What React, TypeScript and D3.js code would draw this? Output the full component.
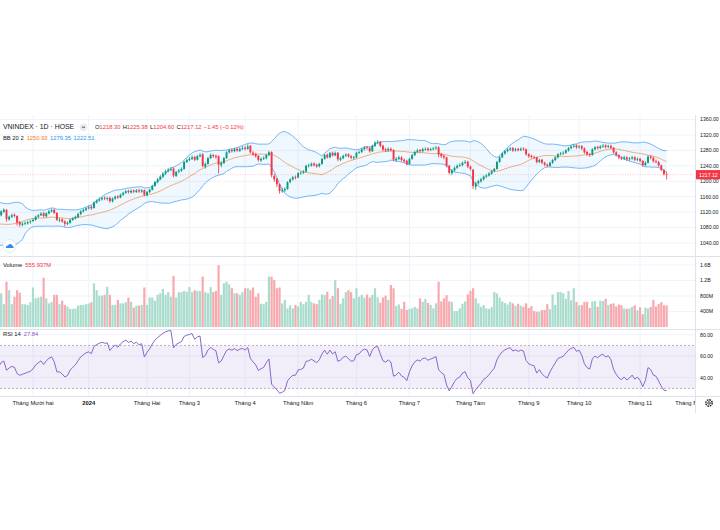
import React from 'react';
import * as d3 from 'd3';

// Closes before the visible window (Sep 5 – Nov 14, 2023), used only to warm up BB(20,2) and RSI(14)
const warmupCloses = [
  1232, 1238, 1241, 1240, 1245, 1240, 1230, 1228, 1228, 1214, 1215, 1223, 1211, 1195, 1172, 1155, 1162, 1152, 1154,
  1154, 1127, 1133, 1139, 1154, 1141, 1150, 1164, 1160, 1154, 1150, 1150, 1141, 1130, 1111, 1104, 1100, 1088, 1063, 1052, 1049, 1028,
  1053, 1068, 1078, 1094, 1100, 1114, 1115, 1101, 1098, 1110,
];

// Visible daily bars, Nov 15 2023 – Nov 15 2024
const opens = [
  1112, 1121, 1126, 1101, 1108, 1113, 1110, 1094, 1087, 1090, 1091, 1095,
  1097, 1100, 1108, 1112, 1117, 1109, 1117, 1122, 1126, 1118, 1099, 1101, 1096, 1089, 1092, 1100, 1104, 1107, 1115, 1122, 1126,
  1130, 1134, 1131, 1145, 1150, 1153, 1157, 1154, 1157, 1148, 1155, 1161, 1158, 1165, 1170, 1175, 1171, 1176, 1172, 1177, 1173, 1177,
  1164, 1172, 1178, 1188, 1198, 1205, 1212, 1220, 1226, 1230, 1233, 1214, 1225, 1228, 1232, 1250,
  1255, 1258, 1263, 1256, 1265, 1270, 1238, 1245, 1260, 1268, 1266, 1265, 1242, 1247, 1260, 1275, 1281, 1278, 1284, 1279, 1284,
  1287, 1284, 1292, 1274, 1271, 1266, 1254, 1258, 1260, 1268, 1276, 1214, 1206, 1192, 1174, 1177, 1180, 1198, 1205, 1211,
  1210, 1221, 1222, 1225, 1240, 1241, 1246, 1243, 1239, 1245, 1258, 1269, 1262, 1274, 1267, 1274, 1256, 1260, 1266, 1270, 1265, 1260,
  1262, 1274, 1276, 1283, 1288, 1286, 1278, 1292, 1300, 1302, 1292, 1283, 1280, 1284, 1281, 1255, 1258, 1262, 1256, 1253,
  1245, 1258, 1268, 1276, 1281, 1278, 1283, 1285, 1281, 1283, 1285, 1288, 1271, 1266, 1262, 1240, 1221, 1228, 1235, 1241, 1242, 1248, 1251,
  1238, 1230, 1186, 1195, 1200, 1205, 1212, 1215, 1220, 1226, 1232, 1250, 1262, 1272, 1278, 1282, 1286, 1280, 1284, 1281, 1285, 1283,
  1270, 1266, 1263, 1262, 1250, 1256, 1248, 1243, 1240, 1248, 1255, 1262, 1270, 1272, 1274, 1280, 1286, 1290, 1293,
  1288, 1291, 1285, 1276, 1270, 1268, 1283, 1289, 1286, 1290, 1293, 1289, 1292, 1287, 1275, 1268, 1262, 1259, 1262, 1257, 1259, 1262, 1256,
  1258, 1253, 1242, 1248, 1264, 1261, 1252, 1250, 1241, 1229, 1218.3,
];
const highs = [
  1125, 1130, 1128, 1111, 1116, 1117, 1112, 1097, 1094, 1096, 1098, 1100,
  1104, 1111, 1115, 1120, 1121, 1120, 1126, 1129, 1129, 1120, 1105, 1104, 1099, 1096, 1103, 1107, 1111, 1118, 1125, 1129, 1133,
  1137, 1138, 1148, 1153, 1158, 1160, 1161, 1160, 1160, 1158, 1163, 1164, 1168, 1173, 1178, 1178, 1179, 1179, 1180, 1181, 1180, 1179,
  1175, 1181, 1191, 1201, 1209, 1216, 1224, 1230, 1235, 1237, 1236, 1227, 1232, 1236, 1253, 1259,
  1263, 1267, 1266, 1268, 1273, 1273, 1249, 1263, 1272, 1271, 1269, 1267, 1252, 1263, 1278, 1284, 1285, 1287, 1288, 1288, 1291,
  1291, 1296, 1294, 1278, 1274, 1268, 1262, 1265, 1271, 1279, 1278, 1219, 1209, 1194, 1183, 1185, 1200, 1208, 1214, 1215,
  1224, 1226, 1229, 1243, 1246, 1249, 1249, 1246, 1248, 1261, 1271, 1272, 1276, 1277, 1277, 1276, 1264, 1269, 1273, 1273, 1268, 1266,
  1277, 1280, 1286, 1291, 1291, 1289, 1295, 1304, 1307, 1304, 1295, 1287, 1288, 1288, 1283, 1263, 1266, 1265, 1259, 1256,
  1261, 1271, 1279, 1284, 1284, 1287, 1288, 1288, 1287, 1289, 1292, 1291, 1274, 1269, 1264, 1243, 1232, 1238, 1244, 1247, 1251, 1255, 1253,
  1241, 1232, 1199, 1204, 1209, 1215, 1219, 1224, 1229, 1235, 1253, 1265, 1275, 1281, 1286, 1289, 1289, 1287, 1287, 1288, 1288, 1285,
  1273, 1269, 1267, 1264, 1259, 1258, 1251, 1246, 1251, 1258, 1265, 1273, 1276, 1278, 1283, 1289, 1294, 1297, 1296,
  1294, 1294, 1288, 1279, 1274, 1286, 1291, 1292, 1294, 1297, 1296, 1295, 1295, 1289, 1278, 1270, 1265, 1266, 1265, 1263, 1266, 1265, 1262,
  1261, 1255, 1252, 1267, 1268, 1264, 1256, 1253, 1244, 1232, 1225.38,
];
const lows = [
  1109, 1118, 1095, 1098, 1105, 1106, 1085, 1082, 1083, 1086, 1088, 1090,
  1094, 1098, 1105, 1110, 1106, 1106, 1114, 1119, 1115, 1097, 1094, 1092, 1083, 1086, 1090, 1097, 1101, 1105, 1112, 1119, 1123,
  1127, 1126, 1129, 1142, 1147, 1150, 1151, 1150, 1144, 1145, 1152, 1154, 1156, 1162, 1167, 1168, 1168, 1169, 1170, 1170, 1170, 1161,
  1161, 1169, 1176, 1186, 1195, 1203, 1209, 1217, 1223, 1226, 1210, 1211, 1221, 1224, 1230, 1247,
  1252, 1255, 1252, 1254, 1262, 1236, 1233, 1243, 1258, 1261, 1258, 1220, 1236, 1245, 1258, 1272, 1274, 1275, 1276, 1276, 1281,
  1280, 1282, 1272, 1266, 1261, 1251, 1250, 1255, 1257, 1265, 1210, 1198, 1185, 1168, 1170, 1172, 1178, 1195, 1202, 1205,
  1208, 1217, 1219, 1223, 1236, 1238, 1238, 1235, 1236, 1243, 1256, 1259, 1260, 1264, 1265, 1252, 1252, 1257, 1263, 1261, 1257, 1256,
  1260, 1271, 1273, 1280, 1282, 1274, 1276, 1289, 1296, 1288, 1278, 1276, 1277, 1277, 1252, 1250, 1255, 1251, 1248, 1241,
  1243, 1256, 1265, 1273, 1274, 1275, 1279, 1277, 1278, 1280, 1282, 1262, 1260, 1257, 1236, 1218, 1216, 1225, 1232, 1237, 1239, 1245, 1234,
  1228, 1180, 1178, 1191, 1196, 1202, 1208, 1212, 1217, 1223, 1230, 1248, 1260, 1269, 1275, 1279, 1276, 1277, 1277, 1278, 1279, 1266,
  1261, 1259, 1258, 1246, 1247, 1244, 1239, 1236, 1238, 1245, 1252, 1259, 1267, 1268, 1271, 1277, 1283, 1287, 1284,
  1285, 1281, 1271, 1266, 1263, 1266, 1280, 1282, 1283, 1287, 1285, 1286, 1283, 1271, 1264, 1257, 1255, 1255, 1253, 1253, 1256, 1252, 1252,
  1249, 1238, 1239, 1246, 1257, 1248, 1246, 1237, 1226, 1215, 1204.6,
];
const closes = [
  1122, 1126, 1102, 1108, 1112, 1110, 1093, 1088, 1090, 1092, 1094, 1096,
  1100, 1108, 1112, 1116, 1110, 1117, 1122, 1125, 1118, 1100, 1100, 1096, 1090, 1092, 1100, 1104, 1108, 1115, 1122, 1126, 1130,
  1132, 1130, 1145, 1150, 1153, 1156, 1155, 1156, 1149, 1155, 1160, 1158, 1165, 1170, 1174, 1172, 1175, 1173, 1176, 1174, 1176, 1165,
  1172, 1178, 1188, 1198, 1205, 1212, 1220, 1226, 1230, 1232, 1215, 1224, 1228, 1232, 1250, 1255,
  1258, 1262, 1256, 1265, 1268, 1240, 1245, 1260, 1268, 1265, 1263, 1243, 1247, 1260, 1275, 1280, 1278, 1283, 1280, 1284, 1286,
  1284, 1290, 1275, 1270, 1265, 1255, 1258, 1260, 1268, 1275, 1216, 1205, 1192, 1175, 1177, 1180, 1198, 1205, 1210, 1210,
  1221, 1222, 1225, 1240, 1241, 1245, 1242, 1239, 1245, 1258, 1268, 1262, 1273, 1267, 1273, 1257, 1260, 1266, 1269, 1265, 1261, 1262,
  1274, 1276, 1283, 1287, 1286, 1278, 1292, 1300, 1301, 1292, 1282, 1280, 1284, 1281, 1256, 1258, 1262, 1255, 1252, 1245,
  1258, 1268, 1276, 1280, 1278, 1283, 1284, 1281, 1283, 1285, 1287, 1270, 1265, 1262, 1240, 1222, 1228, 1235, 1240, 1242, 1248, 1250, 1238,
  1232, 1188, 1195, 1200, 1205, 1212, 1215, 1220, 1226, 1232, 1250, 1262, 1272, 1278, 1282, 1285, 1280, 1283, 1281, 1284, 1283, 1270,
  1265, 1263, 1262, 1250, 1255, 1248, 1243, 1240, 1248, 1255, 1262, 1270, 1272, 1274, 1280, 1286, 1290, 1292, 1288,
  1290, 1285, 1275, 1270, 1268, 1283, 1288, 1286, 1290, 1292, 1289, 1291, 1287, 1275, 1268, 1262, 1259, 1262, 1257, 1259, 1262, 1256, 1258,
  1253, 1242, 1248, 1264, 1261, 1252, 1250, 1241, 1229, 1218.57, 1217.12,
];
// Volume in millions of shares
const volumes = [
  870, 590, 1170, 950, 590, 780, 950, 890, 590, 585, 570, 640,
  1020, 740, 760, 780, 1270, 740, 610, 650, 830, 830, 590, 680, 570, 530, 470, 470, 480, 550, 570, 570, 590,
  610, 640, 1126, 950, 810, 810, 830, 1040, 830, 570, 570, 700, 610, 610, 640, 760, 650, 500, 550, 550, 570, 1020,
  570, 760, 760, 680, 830, 870, 980, 830, 900, 780, 1320, 760, 900, 900, 930, 910,
  1030, 900, 950, 930, 930, 1300, 900, 870, 1030, 900, 930, 1600, 830, 1126, 1170, 1100, 1000, 870, 870, 830, 900,
  1000, 1000, 950, 1020, 780, 870, 600, 590, 650, 1300, 1300, 1210, 1000, 1020, 610, 700, 480, 560, 480, 570,
  530, 650, 590, 650, 830, 650, 610, 590, 700, 840, 830, 910, 720, 800, 1210, 1000, 600, 740, 900, 950, 900, 740,
  1000, 780, 830, 760, 840, 760, 830, 1000, 770, 630, 760, 810, 700, 1083, 1000, 540, 580, 470, 650, 440,
  470, 480, 520, 480, 740, 650, 720, 620, 570, 480, 610, 1170, 660, 740, 820, 660, 650, 410, 410, 480, 600, 660, 840,
  930, 1000, 740, 610, 520, 570, 480, 470, 520, 900, 870, 760, 660, 620, 580, 650, 610, 550, 600, 550, 520, 610,
  490, 540, 410, 390, 400, 440, 440, 590, 460, 840, 570, 900, 900, 870, 730, 930, 690, 1000, 650,
  560, 570, 650, 650, 490, 660, 670, 520, 680, 670, 730, 570, 600, 610, 530, 580, 560, 480, 470, 480, 520, 560, 430,
  510, 330, 500, 480, 520, 700, 530, 590, 640, 560, 555.937,
];

const monthLabels = ['Tháng Mười hai', '2024', 'Tháng Hai', 'Tháng 3', 'Tháng 4', 'Tháng Năm', 'Tháng 6', 'Tháng 7', 'Tháng Tám', 'Tháng 9', 'Tháng 10', 'Tháng 11', 'Tháng Mười hai'];
const monthIndex = [12, 33, 55, 71, 92, 112, 134, 154, 177, 199, 218, 241, 262];
const priceTicks = [1040, 1080, 1120, 1160, 1200, 1240, 1280, 1320, 1360];
const volumeTicks = [400, 800, 1200, 1600];
const volumeTickLabels = ['400M', '800M', '1.2B', '1.6B'];
const rsiTicks = [40, 60, 80];

const UP = '#089981';
const DOWN = '#f23645';
const UPV = '#a9dccd';
const DOWNV = '#f7a9ae';
const TXT = '#131722';
const FONT = "'Liberation Sans', Arial, sans-serif";

const PT = 115, PB = 256, VT = 257, VB = 329, RT = 330, RB = 396, AB = 413, CR = 695;

function bollinger(vals: number[], len: number, mult: number) {
  return vals.map((_, k) => {
    if (k < len - 1) return null;
    const w = vals.slice(k - len + 1, k + 1);
    const m = d3.mean(w) as number;
    const sd = Math.sqrt(d3.mean(w, (v) => (v - m) * (v - m)) as number);
    return { m, u: m + mult * sd, l: m - mult * sd };
  });
}

function rsi(vals: number[], len: number) {
  const out: (number | null)[] = vals.map(() => null);
  let ag = 0, al = 0;
  for (let k = 1; k < vals.length; k++) {
    const ch = vals[k] - vals[k - 1];
    const g = Math.max(ch, 0), l = Math.max(-ch, 0);
    if (k <= len) {
      ag += g / len; al += l / len;
      if (k === len) out[k] = al === 0 ? 100 : 100 - 100 / (1 + ag / al);
    } else {
      ag = (ag * (len - 1) + g) / len;
      al = (al * (len - 1) + l) / len;
      out[k] = al === 0 ? 100 : 100 - 100 / (1 + ag / al);
    }
  }
  return out;
}

export default function App() {
  const n = closes.length;
  const all = warmupCloses.concat(closes);
  const off = warmupCloses.length;
  const bb = bollinger(all, 20, 2);
  const rs = rsi(all, 14);

  const x = d3.scaleLinear().domain([0, n - 1]).range([1.2, 666.6]);
  const yP = d3.scaleLinear().domain([1040, 1320]).range([243, 135]);
  const yV = d3.scaleLinear().domain([0, 1600]).range([327, 265]);
  const yR = d3.scaleLinear().domain([30, 80]).range([388.4, 334.7]);

  const bbPts = bb.map((b, k) => ({ b, i: k - off })).filter((d) => d.b && d.i >= -3) as { b: { m: number; u: number; l: number }; i: number }[];
  const area = d3.area<any>().x((d) => x(d.i)).y0((d) => yP(d.b.l)).y1((d) => yP(d.b.u));
  const lineU = d3.line<any>().x((d) => x(d.i)).y((d) => yP(d.b.u));
  const lineL = d3.line<any>().x((d) => x(d.i)).y((d) => yP(d.b.l));
  const lineM = d3.line<any>().x((d) => x(d.i)).y((d) => yP(d.b.m));

  const rsPts = rs.map((v, k) => ({ v, i: k - off })).filter((d) => d.v !== null && d.i >= -3);
  const lineR = d3.line<any>().x((d) => x(d.i)).y((d) => yR(d.v));

  const last = n - 1;
  const lastBB = bb[all.length - 1]!;
  const lastRsi = rs[all.length - 1]!;
  const lastClose = closes[last];
  const prevClose = closes[last - 1];
  const chg = lastClose - prevClose;
  const pct = (chg / prevClose) * 100;
  const fmt = (v: number) => v.toFixed(2);
  const minus = (v: number) => (v < 0 ? '\u2212' + Math.abs(v).toFixed(2) : '+' + v.toFixed(2));

  const grid = '#f0f3fa';
  const sep = '#e0e3eb';
  const fs = 5.8;

  return (
    <svg width={720} height={530} style={{ position: 'absolute', left: 0, top: 0, background: '#fff' }} fontFamily={FONT}>
      <defs>
        <clipPath id="cp"><rect x={0} y={PT} width={CR} height={PB - PT} /></clipPath>
        <clipPath id="cv"><rect x={0} y={VT} width={CR} height={VB - VT} /></clipPath>
        <clipPath id="cr"><rect x={0} y={RT} width={CR} height={RB - RT} /></clipPath>
        <clipPath id="ca"><rect x={0} y={RB} width={CR} height={AB - RB} /></clipPath>
        <clipPath id="cpa"><rect x={CR} y={PT} width={720 - CR} height={PB - PT} /></clipPath>
      </defs>
      <rect x={0} y={0} width={720} height={530} fill="#fff" />

      {/* grid */}
      <g stroke={grid} strokeWidth={1}>
        {monthIndex.map((mi, k) => x(mi) < CR ? <line key={'vg' + k} x1={x(mi)} x2={x(mi)} y1={PT} y2={RB} /> : null)}
        {priceTicks.map((t) => yP(t) > PT ? <line key={'pg' + t} x1={0} x2={CR} y1={yP(t)} y2={yP(t)} /> : null)}
        {volumeTicks.map((t) => <line key={'vgl' + t} x1={0} x2={CR} y1={yV(t)} y2={yV(t)} />)}
        {rsiTicks.map((t) => <line key={'rg' + t} x1={0} x2={CR} y1={yR(t)} y2={yR(t)} />)}
      </g>

      {/* price pane */}
      <g clipPath="url(#cp)">
        <path d={area(bbPts) || ''} fill="rgba(33,150,243,0.07)" />
        <path d={lineU(bbPts) || ''} fill="none" stroke="#64aef2" strokeWidth={0.9} />
        <path d={lineL(bbPts) || ''} fill="none" stroke="#64aef2" strokeWidth={0.9} />
        <path d={lineM(bbPts) || ''} fill="none" stroke="#f6a264" strokeWidth={0.9} />
        <line x1={0} x2={CR} y1={yP(lastClose)} y2={yP(lastClose)} stroke="#f23645" strokeOpacity={0.35} strokeWidth={0.8} strokeDasharray="1 1.5" />
        {closes.map((c, i) => {
          const o = opens[i];
          const col = c >= o ? UP : DOWN;
          const cx = x(i);
          const top = yP(Math.max(o, c));
          const h = Math.max(0.7, Math.abs(yP(o) - yP(c)));
          return (
            <g key={'c' + i}>
              <line x1={cx} x2={cx} y1={yP(highs[i])} y2={yP(lows[i])} stroke={col} strokeWidth={0.8} />
              <rect x={cx - 0.95} y={top} width={1.9} height={h} fill={col} />
            </g>
          );
        })}
        {/* logo */}
        <circle cx={9.5} cy={246} r={6.5} fill="#fff" stroke="#e0e3eb" strokeWidth={0.8} />
        <path d="M5.8,248 q0,-2.4 2.2,-2.4 q0.6,-1.8 2.4,-1.6 q1.6,0.1 1.9,1.7 q1.6,0.2 1.4,2.3 z" fill="#2e8ef0" />
      </g>

      {/* header */}
      <text y={129.4} fontSize={6.9} fill={TXT}>
        <tspan x={3}>VNINDEX · 1D · HOSE</tspan>
      </text>
      <circle cx={83.5} cy={127.2} r={3.8} fill="#e8eaf0" />
      <line x1={82} x2={85} y1={127.2} y2={127.2} stroke={TXT} strokeWidth={0.7} />
      <text y={129.3} fontSize={fs} fill={DOWN}>
        <tspan x={95} fill={TXT}>O</tspan><tspan>{fmt(opens[last])}</tspan>
        <tspan dx={2.2} fill={TXT}>H</tspan><tspan>{fmt(highs[last])}</tspan>
        <tspan dx={2.2} fill={TXT}>L</tspan><tspan>{fmt(lows[last])}</tspan>
        <tspan dx={2.2} fill={TXT}>C</tspan><tspan>{fmt(lastClose)}</tspan>
        <tspan dx={2.2}>{minus(chg)} ({minus(pct)}%)</tspan>
      </text>
      <text y={140.3} fontSize={fs} fill={TXT}>
        <tspan x={3}>BB 20 2</tspan>
        <tspan dx={3} fill="#f57c26">{fmt(lastBB.m)}</tspan>
        <tspan dx={2.5} fill="#2196f3">{fmt(lastBB.u)}</tspan>
        <tspan dx={2.5} fill="#2196f3">{fmt(lastBB.l)}</tspan>
      </text>

      {/* volume pane */}
      <g clipPath="url(#cv)">
        {volumes.map((v, i) => {
          const col = closes[i] >= opens[i] ? UPV : DOWNV;
          return <rect key={'v' + i} x={x(i) - 1.1} y={yV(v)} width={2.2} height={yV(0) - yV(v)} fill={col} />;
        })}
      </g>
      <text y={267.3} fontSize={fs} fill={TXT}>
        <tspan x={3}>Volume</tspan>
        <tspan dx={3} fill={DOWN}>{volumes[last].toFixed(3)}M</tspan>
      </text>

      {/* RSI pane */}
      <g clipPath="url(#cr)">
        <rect x={0} y={yR(70)} width={CR} height={yR(30) - yR(70)} fill="rgba(126,87,194,0.1)" />
        <line x1={0} x2={CR} y1={yR(70)} y2={yR(70)} stroke="#9598a1" strokeWidth={0.7} strokeDasharray="2 2" />
        <line x1={0} x2={CR} y1={yR(30)} y2={yR(30)} stroke="#9598a1" strokeWidth={0.7} strokeDasharray="2 2" />
        <path d={lineR(rsPts) || ''} fill="none" stroke="#7e57c2" strokeWidth={0.9} />
      </g>
      <text y={336} fontSize={fs} fill={TXT}>
        <tspan x={3}>RSI 14</tspan>
        <tspan dx={3} fill="#7e57c2">{lastRsi.toFixed(2)}</tspan>
      </text>

      {/* separators */}
      <g stroke={sep} strokeWidth={1}>
        <line x1={0} x2={720} y1={PB + 0.5} y2={PB + 0.5} />
        <line x1={0} x2={720} y1={VB + 0.5} y2={VB + 0.5} />
        <line x1={0} x2={720} y1={RB + 0.5} y2={RB + 0.5} />
        <line x1={CR + 0.5} x2={CR + 0.5} y1={PT} y2={AB} />
      </g>

      {/* price axis */}
      <g clipPath="url(#cpa)" fontSize={5.2} fill={TXT}>
        {priceTicks.map((t) => <text key={'pt' + t} x={700} y={yP(t) + 1.9}>{fmt(t)}</text>)}
        <rect x={696} y={yP(lastClose) - 4.6} width={24} height={9.2} fill={DOWN} />
        <text x={699} y={yP(lastClose) + 1.9} fill="#fff">{fmt(lastClose)}</text>
      </g>
      <g fontSize={5.2} fill={TXT}>
        {volumeTicks.map((t, k) => <text key={'vt' + t} x={700} y={yV(t) + 1.9}>{volumeTickLabels[k]}</text>)}
        {rsiTicks.map((t) => <text key={'rt' + t} x={700} y={yR(t) + 1.9}>{fmt(t)}</text>)}
      </g>

      {/* time axis */}
      <g clipPath="url(#ca)" fontSize={fs} fill={TXT} textAnchor="middle">
        {monthLabels.map((m, k) => (
          <text key={'m' + k} x={x(monthIndex[k])} y={405} fontWeight={m === '2024' ? 'bold' : 'normal'}>{m}</text>
        ))}
      </g>
      {/* settings gear */}
      <g transform="translate(709,403)" fill="none" stroke={TXT} strokeWidth={0.8}>
        <circle r={3.2} strokeDasharray="1.6 0.9" strokeWidth={1.4} />
        <circle r={1.3} />
      </g>
    </svg>
  );
}
